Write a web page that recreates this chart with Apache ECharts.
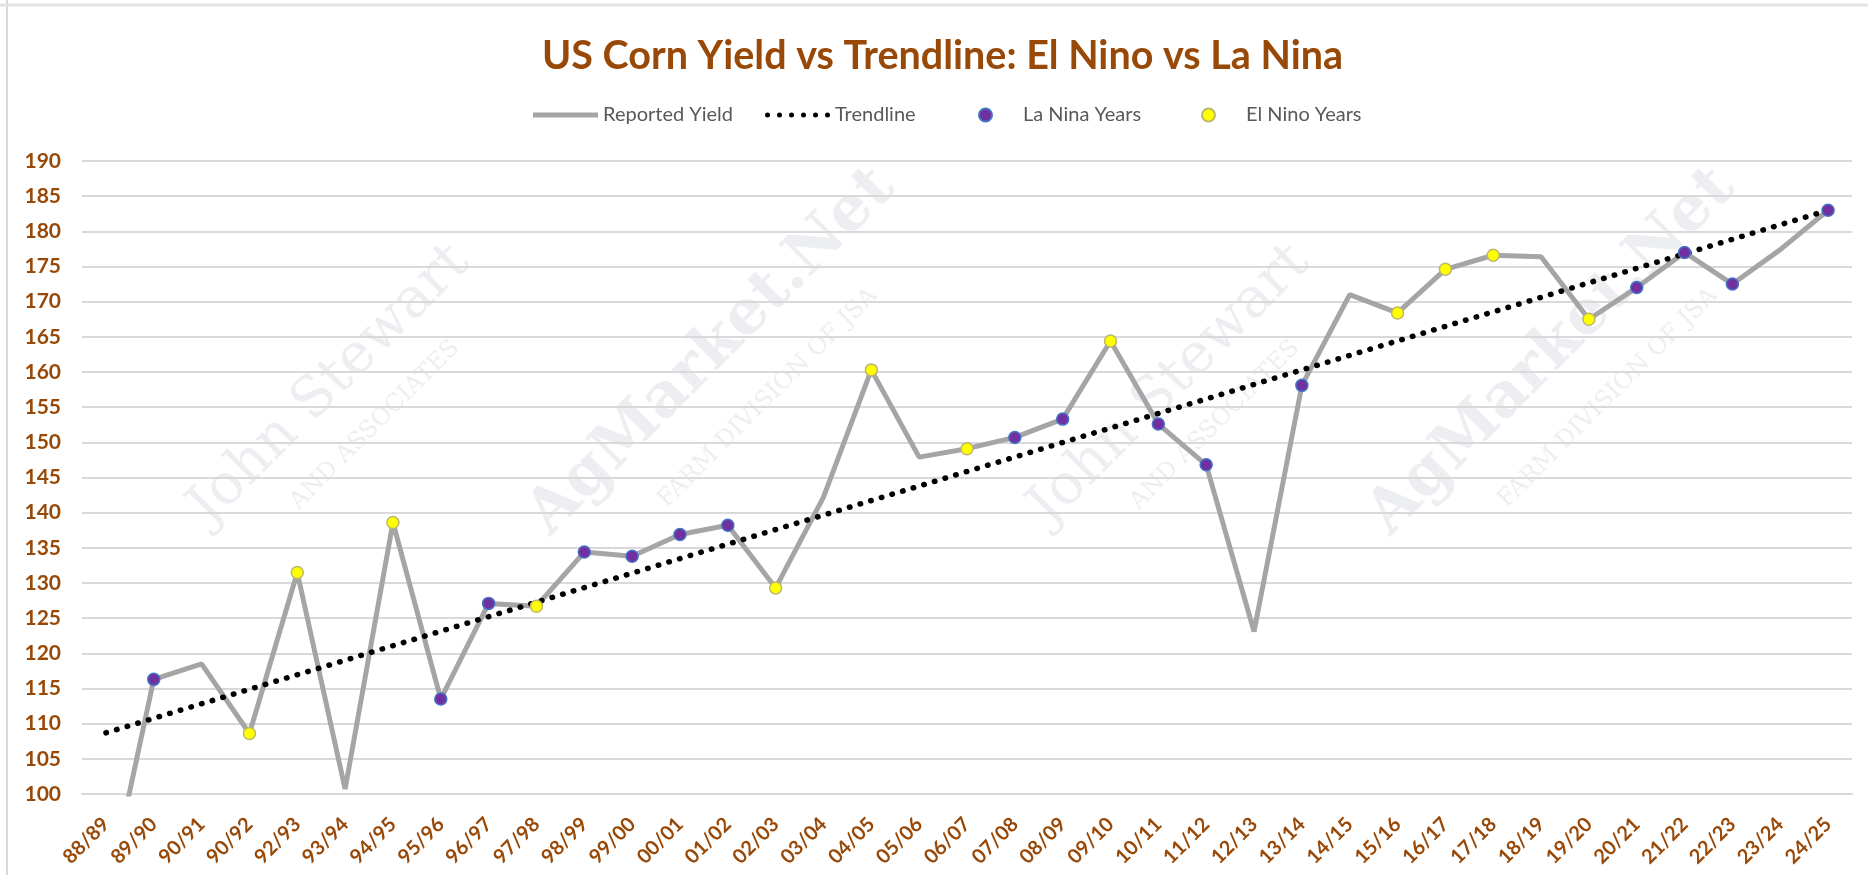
<!DOCTYPE html>
<html>
<head>
<meta charset="utf-8">
<script src="https://cdn.jsdelivr.net/npm/echarts@6/dist/echarts.min.js"></script>
<style>
  html, body { margin: 0; padding: 0; background: #fff; }
  #chartContainer { width: 1868px; height: 875px; }
</style>
</head>
<body>
<div id="chartContainer"></div>
<script>
'use strict';
// crop years on the category axis (label "90/92" kept as in the source chart)
let seasons = ['88/89', '89/90', '90/91', '90/92', '92/93', '93/94', '94/95', '95/96', '96/97', '97/98',
    '98/99', '99/00', '00/01', '01/02', '02/03', '03/04', '04/05', '05/06', '06/07', '07/08',
    '08/09', '09/10', '10/11', '11/12', '12/13', '13/14', '14/15', '15/16', '16/17', '17/18',
    '18/19', '19/20', '20/21', '21/22', '22/23', '23/24', '24/25'];

// reported yield, bu/acre
let reportedYield = [84.6, 116.3, 118.5, 108.6, 131.5, 100.7, 138.6, 113.5, 127.1, 126.7,
    134.4, 133.8, 136.9, 138.2, 129.3, 142.2, 160.3, 147.9, 149.1, 150.7,
    153.3, 164.4, 152.6, 146.8, 123.1, 158.1, 171.0, 168.4, 174.6, 176.6,
    176.4, 167.5, 172.0, 177.0, 172.5, 177.4, 183.0];

// trendline end points (first and last season)
let trendStart = 108.7;
let trendEnd = 183.0;

let laNinaSeasons = ['89/90', '95/96', '96/97', '98/99', '99/00', '00/01', '01/02', '07/08',
    '08/09', '10/11', '11/12', '13/14', '20/21', '21/22', '22/23', '24/25'];
let elNinoSeasons = ['90/92', '92/93', '94/95', '97/98', '02/03', '04/05', '06/07', '09/10',
    '15/16', '16/17', '17/18', '19/20'];

let yTicks = { min: 100, max: 190, step: 5 };

let initChart = (function() {
    let chartContainer = document.getElementById('chartContainer');
    let demoChart = echarts.init(chartContainer);

    let brown = '#984807';
    let font = ['Lato', 'Open Sans', 'sans-serif'];

    let trendData = seasons.map(function(s, i) {
        if (i === 0) return trendStart;
        if (i === seasons.length - 1) return trendEnd;
        return null;
    });
    let pick = function(list) {
        return seasons.map(function(s, i) {
            return list.indexOf(s) >= 0 ? reportedYield[i] : null;
        });
    };

    // legend icons: plain thick line, and a row of round dots
    let lineIcon = 'path://M0,0L65,0L65,5L0,5Z';
    let dotIcon = 'path://';
    for (let k = 0; k < 6; k++) {
        let cx = 2.5 + k * 12;
        dotIcon += 'M' + (cx - 2.5) + ',2.5a2.5,2.5 0 1,0 5,0a2.5,2.5 0 1,0 -5,0';
    }

    let legendItem = function(item, left) {
        return {
            left: left,
            top: 100,
            itemWidth: 65,
            itemHeight: 13,
            textStyle: {
                color: '#595959',
                fontFamily: font,
                fontSize: 20
            },
            data: [item]
        };
    };

    let watermark = function(text, x, y, size, weight) {
        return {
            type: 'text',
            x: x,
            y: y,
            rotation: Math.PI / 4,
            z: -10,
            silent: true,
            style: {
                text: text,
                font: weight + ' ' + size + 'px "DejaVu Serif", serif',
                fill: 'rgba(200, 202, 212, 0.32)',
                align: 'center',
                verticalAlign: 'middle'
            }
        };
    };

    let option = {
        backgroundColor: '#fff',
        title: {
            text: 'US Corn Yield vs Trendline: El Nino vs La Nina',
            left: 537,
            top: 31,
            textStyle: {
                color: brown,
                fontFamily: font,
                fontWeight: 'bold',
                fontSize: 39.5
            }
        },
        legend: [
            legendItem({ name: 'Reported Yield', icon: lineIcon, itemStyle: { color: '#A5A5A5', borderWidth: 0 } }, 528),
            legendItem({ name: 'Trendline', icon: dotIcon, itemStyle: { color: '#000', borderWidth: 0 } }, 760),
            legendItem({ name: 'La Nina Years' }, 973),
            legendItem({ name: 'El Nino Years' }, 1196)
        ],
        graphic: [
            { type: 'line', shape: { x1: 7, y1: 0, x2: 7, y2: 875 }, style: { stroke: '#D9D9D9', lineWidth: 2 } },
            { type: 'line', shape: { x1: 0, y1: 5, x2: 1868, y2: 5 }, style: { stroke: '#E3E3E3', lineWidth: 3 } },
            watermark('John Stewart', 330, 385, 56, 'normal'),
            watermark('AND ASSOCIATES', 375, 425, 24, 'normal'),
            watermark('AgMarket.Net', 712, 352, 62, 'bold'),
            watermark('FARM DIVISION OF JSA', 768, 398, 24, 'normal'),
            watermark('John Stewart', 1170, 385, 56, 'normal'),
            watermark('AND ASSOCIATES', 1215, 425, 24, 'normal'),
            watermark('AgMarket.Net', 1552, 352, 62, 'bold'),
            watermark('FARM DIVISION OF JSA', 1608, 398, 24, 'normal')
        ],
        grid: {
            left: 82,
            right: 16,
            top: 161,
            bottom: 81
        },
        xAxis: {
            type: 'category',
            data: seasons,
            boundaryGap: true,
            axisLine: {
                lineStyle: {
                    color: '#D9D9D9',
                    width: 2
                }
            },
            axisTick: {
                show: false
            },
            axisLabel: {
                rotate: 45,
                interval: 0,
                margin: 27,
                color: brown,
                fontFamily: font,
                fontWeight: 'bold',
                fontSize: 20
            }
        },
        yAxis: {
            type: 'value',
            min: yTicks.min,
            max: yTicks.max,
            interval: yTicks.step,
            axisLine: {
                show: false
            },
            axisTick: {
                show: false
            },
            axisLabel: {
                margin: 21,
                color: brown,
                fontFamily: font,
                fontWeight: 'bold',
                fontSize: 21
            },
            splitLine: {
                lineStyle: {
                    color: '#D9D9D9',
                    width: 2
                }
            }
        },
        series: [{
            name: 'Reported Yield',
            type: 'line',
            data: reportedYield,
            symbol: 'none',
            clip: true,
            z: 2,
            lineStyle: {
                color: '#A5A5A5',
                width: 5
            },
            itemStyle: {
                color: '#A5A5A5'
            }
        }, {
            name: 'Trendline',
            type: 'line',
            data: trendData,
            connectNulls: true,
            symbol: 'none',
            z: 3,
            lineStyle: {
                color: '#000',
                width: 5.5,
                type: [0.5, 10.6],
                cap: 'round'
            },
            itemStyle: {
                color: '#000'
            }
        }, {
            name: 'La Nina Years',
            type: 'scatter',
            data: pick(laNinaSeasons),
            symbolSize: 12,
            z: 4,
            itemStyle: {
                color: '#7030A0',
                borderColor: '#4472C4',
                borderWidth: 1.5,
                opacity: 1
            }
        }, {
            name: 'El Nino Years',
            type: 'scatter',
            data: pick(elNinoSeasons),
            symbolSize: 12,
            z: 4,
            itemStyle: {
                color: '#FFFF00',
                borderColor: '#BDB76B',
                borderWidth: 1.5,
                opacity: 1
            }
        }]
    };

    demoChart.setOption(option);
})();
</script>
</body>
</html>
